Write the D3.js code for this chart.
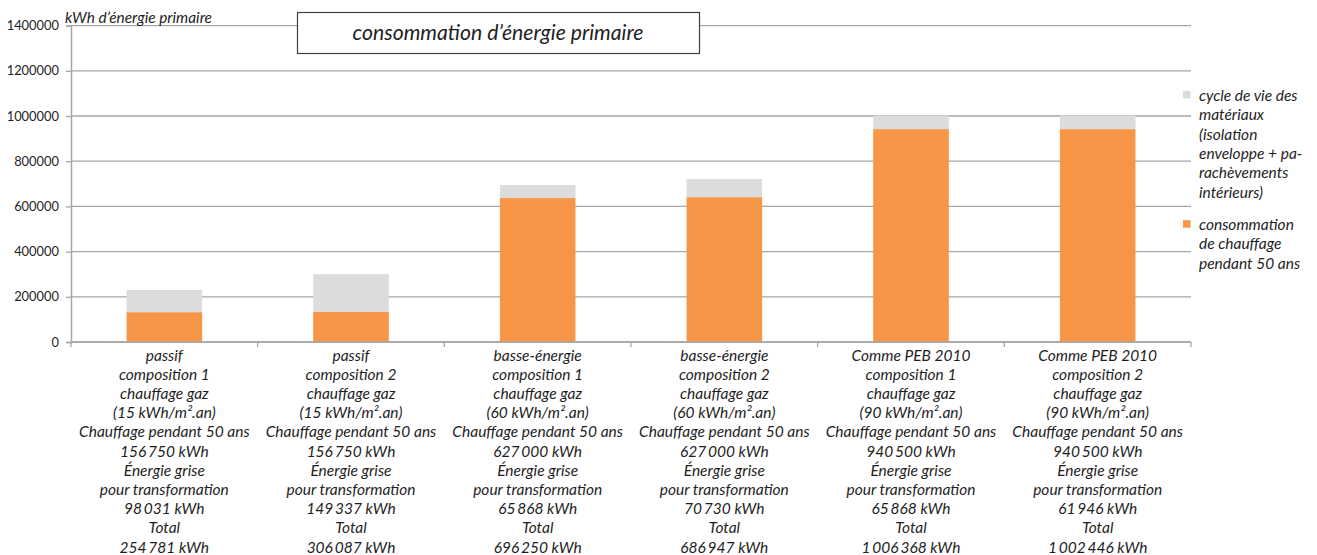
<!DOCTYPE html>
<html><head><meta charset="utf-8">
<script src="https://cdnjs.cloudflare.com/ajax/libs/d3/7.8.5/d3.min.js"></script>
<style>body{margin:0;background:#fff}svg{display:block}text{font-family:Lato,"Open Sans",sans-serif;font-style:italic;fill:#1e1e1e}</style>
</head><body><svg id="c" width="1317" height="555"></svg>
<script>
const categories = [
 ["passif","composition 1","chauffage gaz","(15 kWh/m².an)","Chauffage pendant 50 ans","156\u2009750 kWh","Énergie grise","pour transformation","98\u2009031 kWh","Total","254\u2009781 kWh"],
 ["passif","composition 2","chauffage gaz","(15 kWh/m².an)","Chauffage pendant 50 ans","156\u2009750 kWh","Énergie grise","pour transformation","149\u2009337 kWh","Total","306\u2009087 kWh"],
 ["basse-énergie","composition 1","chauffage gaz","(60 kWh/m².an)","Chauffage pendant 50 ans","627\u2009000 kWh","Énergie grise","pour transformation","65\u2009868 kWh","Total","696\u2009250 kWh"],
 ["basse-énergie","composition 2","chauffage gaz","(60 kWh/m².an)","Chauffage pendant 50 ans","627\u2009000 kWh","Énergie grise","pour transformation","70\u2009730 kWh","Total","686\u2009947 kWh"],
 ["Comme PEB 2010","composition 1","chauffage gaz","(90 kWh/m².an)","Chauffage pendant 50 ans","940\u2009500 kWh","Énergie grise","pour transformation","65\u2009868 kWh","Total","1\u2009006\u2009368 kWh"],
 ["Comme PEB 2010","composition 2","chauffage gaz","(90 kWh/m².an)","Chauffage pendant 50 ans","940\u2009500 kWh","Énergie grise","pour transformation","61\u2009946 kWh","Total","1\u2009002\u2009446 kWh"]
];
const heating = [132000, 133000, 637000, 641000, 942000, 942000];
const lifecycle = [98000, 167000, 58000, 80000, 60000, 60000];
const yTicks = [0,200000,400000,600000,800000,1000000,1200000,1400000];
const seriesNames = ["cycle de vie des matériaux (isolation enveloppe + pa-rachèvements intérieurs)","consommation de chauffage pendant 50 ans"];
const legendLines = [["cycle de vie des","matériaux","(isolation","enveloppe + pa-","rachèvements","intérieurs)"],["consommation","de chauffage","pendant 50 ans"]];
const colors = ["#dbdcde","#f79646"];
const title = "consommation d’énergie primaire";
const yTitle = "kWh d’énergie primaire";

const svg = d3.select("#c");
const mLeft = 71, mRight = 1191, mTop = 25.6, mBottom = 342;
const x = d3.scaleBand().domain(d3.range(categories.length)).range([mLeft, mRight]).padding(0);
const y = d3.scaleLinear().domain([0,1400000]).range([mBottom, mTop]);

// gridlines
svg.append("g").selectAll("line").data(yTicks).join("line")
  .attr("x1", mLeft).attr("x2", mRight).attr("y1", d=>y(d)).attr("y2", d=>y(d))
  .attr("stroke", "#a6a6a6").attr("stroke-width", 1.3);

// y axis
const ya = svg.append("g").attr("transform",`translate(${mLeft},0)`)
  .call(d3.axisLeft(y).tickValues(yTicks).tickFormat(d3.format("d")).tickSize(5).tickPadding(7));
ya.select(".domain").attr("stroke","#a6a6a6").attr("stroke-width",1.5);
ya.selectAll(".tick line").attr("stroke","#a6a6a6").attr("stroke-width",1.3);
ya.selectAll(".tick text").style("font-style","normal").style("font-family","Lato,sans-serif").attr("font-size",12.9).attr("fill","#1e1e1e");

// stacked bars
const stack = d3.stack().keys([0,1]).value((d,k)=> k===0 ? heating[d] : lifecycle[d]);
const series = stack(d3.range(categories.length));
const bw = x.bandwidth()*0.405;
svg.append("g").selectAll("g").data(series).join("g")
  .attr("fill", (s,i)=> i===0 ? colors[1] : colors[0])
  .selectAll("rect").data(s=>s).join("rect")
  .attr("x", (d,i)=> x(i)+x.bandwidth()/2-bw/2)
  .attr("width", bw)
  .attr("y", d=>y(d[1]))
  .attr("height", d=>y(d[0])-y(d[1]));

// x axis
const xa = svg.append("g");
xa.append("line").attr("x1",mLeft).attr("x2",mRight).attr("y1",mBottom).attr("y2",mBottom).attr("stroke","#a6a6a6").attr("stroke-width",1.5);
xa.selectAll("line.tk").data(d3.range(categories.length+1)).join("line").attr("class","tk")
  .attr("x1", i=> mLeft + i*x.step()).attr("x2", i=> mLeft + i*x.step())
  .attr("y1", mBottom).attr("y2", mBottom+5).attr("stroke","#a6a6a6").attr("stroke-width",1.3);
const labs = xa.selectAll("text.cat").data(categories).join("text").attr("class","cat")
  .attr("text-anchor","middle").attr("font-size",15.5);
labs.selectAll("tspan").data((d,i)=> d.map(l=>({l,i}))).join("tspan")
  .attr("x", d=> x(d.i)+x.bandwidth()/2)
  .attr("y", (d,j)=> 360.5 + j*19.2)
  .text(d=>d.l);

// y title
svg.append("text").attr("x",65).attr("y",23).attr("font-size",15.4).text(yTitle);

// title box
svg.append("rect").attr("x",297.5).attr("y",12.5).attr("width",402).attr("height",41).attr("fill","#fff").attr("stroke","#404040").attr("stroke-width",1.2);
svg.append("text").attr("x",498).attr("y",40).attr("text-anchor","middle").attr("font-size",21.2).text(title);

// legend
const lg = svg.append("g");
const legendY = [94.7, 224];
legendLines.forEach((lines,k)=>{
  lg.append("rect").attr("x",1183).attr("y",legendY[k]-3.8).attr("width",7.5).attr("height",7.5).attr("fill", k===0?colors[0]:colors[1]);
  const t = lg.append("text").attr("font-size",15.5).attr("dominant-baseline","central");
  t.append("title").text(seriesNames[k]);
  t.selectAll("tspan").data(lines).join("tspan").attr("x",1199).attr("y",(d,j)=>legendY[k]+j*19.4).text(d=>d);
});
</script></body></html>
